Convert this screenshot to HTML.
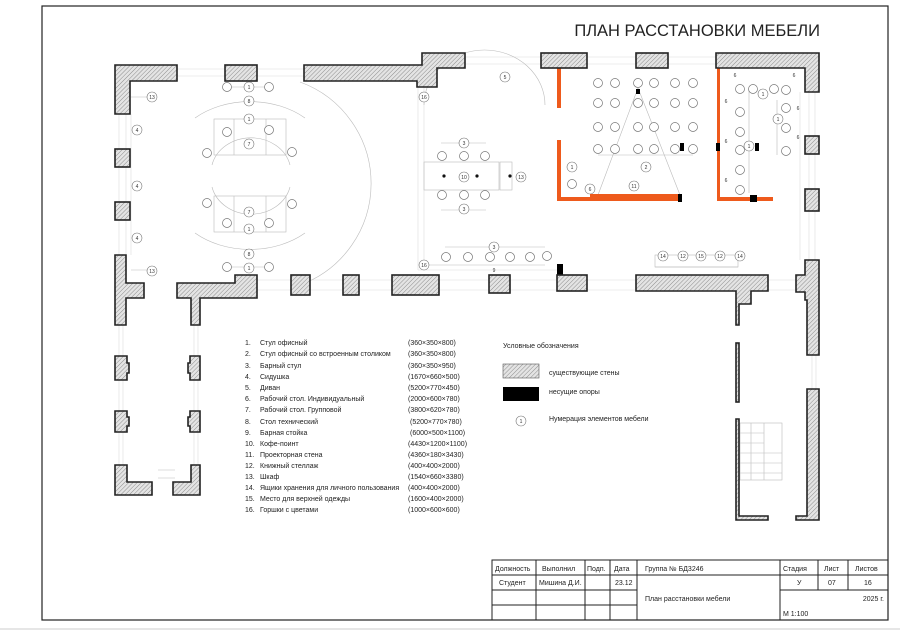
<!DOCTYPE html>
<html><head><meta charset="utf-8"><style>
html,body{margin:0;padding:0;background:#fff;}
svg{display:block;font-family:"Liberation Sans","DejaVu Sans",sans-serif;}
.w{fill:url(#h);stroke:#222;stroke-width:1.6;}
.t{font-size:7px;fill:#222;}
.n{font-size:5px;fill:#333;text-anchor:middle;}
.c{fill:#fff;stroke:#777;stroke-width:0.7;}
.g{stroke:#bbb;stroke-width:0.6;fill:none;}
.lg{stroke:#ddd;stroke-width:0.6;fill:none;}
.o{fill:#ee5a1c;}
.tb{font-size:7px;fill:#222;}
</style></head><body>
<svg width="900" height="633" viewBox="0 0 900 633" xmlns="http://www.w3.org/2000/svg">
<defs>
<pattern id="h" width="3" height="3" patternUnits="userSpaceOnUse" patternTransform="rotate(45)">
<rect width="3" height="3" fill="#e4e4e4"/><line x1="0" y1="0" x2="0" y2="3" stroke="#777" stroke-width="0.8"/></pattern>
<g id="ch"><circle r="4.5" class="c"/></g>
<g id="col"><use href="#ch" x="0" y="83"/><use href="#ch" x="0" y="103"/><use href="#ch" x="0" y="127"/><use href="#ch" x="0" y="149"/></g>
</defs>
<rect x="0" y="0" width="900" height="633" fill="#fff"/>
<rect x="42" y="6" width="846" height="614" fill="none" stroke="#222" stroke-width="1.2"/>
<line x1="0" y1="629" x2="900" y2="629" stroke="#ccc" stroke-width="1"/>
<text x="820" y="36" font-size="16.5" text-anchor="end" fill="#222">ПЛАН РАССТАНОВКИ МЕБЕЛИ</text>

<g class="lg">
<line x1="177" y1="69" x2="225" y2="69"/><line x1="177" y1="76" x2="225" y2="76"/>
<line x1="257" y1="69" x2="304" y2="69"/><line x1="257" y1="76" x2="304" y2="76"/>
<line x1="465" y1="57" x2="541" y2="57"/><line x1="465" y1="64" x2="541" y2="64"/>
<line x1="587" y1="57" x2="636" y2="57"/><line x1="587" y1="64" x2="636" y2="64"/>
<line x1="668" y1="57" x2="716" y2="57"/><line x1="668" y1="64" x2="716" y2="64"/>
<line x1="119" y1="114" x2="119" y2="255"/><line x1="126" y1="114" x2="126" y2="255"/><line x1="131" y1="114" x2="131" y2="255"/>
<line x1="809" y1="92" x2="809" y2="260"/><line x1="815" y1="92" x2="815" y2="260"/><line x1="800" y1="92" x2="800" y2="260"/>
<line x1="257" y1="280" x2="489" y2="280"/><line x1="257" y1="290" x2="489" y2="290"/>
<line x1="510" y1="280" x2="557" y2="280"/><line x1="510" y1="290" x2="557" y2="290"/>
<line x1="587" y1="280" x2="636" y2="280"/><line x1="587" y1="290" x2="636" y2="290"/>
<line x1="768" y1="280" x2="796" y2="280"/><line x1="768" y1="290" x2="796" y2="290"/>
<line x1="119" y1="325" x2="119" y2="465"/><line x1="123" y1="325" x2="123" y2="465"/>
<line x1="194" y1="325" x2="194" y2="465"/><line x1="198" y1="325" x2="198" y2="465"/>
<line x1="812" y1="355" x2="812" y2="389"/><line x1="816" y1="355" x2="816" y2="389"/>
<line x1="418" y1="87" x2="418" y2="270"/><line x1="424" y1="87" x2="424" y2="270"/>
<line x1="418" y1="270" x2="558" y2="270"/>
</g>

<g class="g">
<path d="M300 82 A108 108 0 0 1 300 285"/>
<path d="M195 118 A80 60 0 0 1 305 118"/><path d="M195 233 A80 60 0 0 0 305 233"/>
<path d="M212 165 A40 35 0 0 1 290 165"/><path d="M212 187 A40 35 0 0 0 290 187"/>
<rect x="214" y="119" width="72" height="36"/><rect x="214" y="196" width="72" height="36"/>
<line x1="234" y1="119" x2="234" y2="155"/><line x1="266" y1="119" x2="266" y2="155"/>
<line x1="234" y1="196" x2="234" y2="232"/><line x1="266" y1="196" x2="266" y2="232"/>
<line x1="231" y1="87" x2="267" y2="87"/><line x1="231" y1="267" x2="267" y2="267"/>
<line x1="131" y1="97" x2="150" y2="97"/><line x1="131" y1="270" x2="150" y2="270"/>
<path d="M424 105 A55 50 0 0 1 545 105"/>
<rect x="424" y="162" width="75" height="28"/><rect x="500" y="162" width="12" height="28"/>
<line x1="441" y1="143" x2="486" y2="143"/><line x1="441" y1="210" x2="486" y2="210"/>
<line x1="445" y1="247" x2="545" y2="247"/><line x1="424" y1="265" x2="545" y2="265"/>
<line x1="158" y1="470" x2="175" y2="470"/><line x1="158" y1="478" x2="175" y2="478"/>
<line x1="598" y1="155" x2="693" y2="155"/>
<line x1="638" y1="88" x2="598" y2="195"/><line x1="638" y1="88" x2="680" y2="195"/>
<line x1="749" y1="90" x2="749" y2="193"/><line x1="777" y1="100" x2="777" y2="155"/>
<rect x="655" y="255" width="83" height="12"/><line x1="655" y1="267" x2="738" y2="267"/>
<rect x="740" y="423" width="42" height="57"/><line x1="751" y1="423" x2="751" y2="480"/><line x1="764" y1="423" x2="764" y2="480"/>
<line x1="740" y1="433" x2="764" y2="433"/><line x1="740" y1="443" x2="764" y2="443"/><line x1="740" y1="453" x2="782" y2="453"/><line x1="740" y1="463" x2="782" y2="463"/><line x1="740" y1="473" x2="782" y2="473"/>
</g>
<g>
<use href="#ch" x="227" y="87"/><use href="#ch" x="269" y="87"/>
<use href="#ch" x="227" y="267"/><use href="#ch" x="269" y="267"/>
<use href="#ch" x="227" y="132"/><use href="#ch" x="269" y="130"/><use href="#ch" x="207" y="153"/><use href="#ch" x="292" y="152"/>
<use href="#ch" x="207" y="203"/><use href="#ch" x="292" y="204"/><use href="#ch" x="227" y="223"/><use href="#ch" x="269" y="223"/>
<use href="#ch" x="442" y="156"/><use href="#ch" x="464" y="156"/><use href="#ch" x="485" y="156"/>
<use href="#ch" x="442" y="195"/><use href="#ch" x="464" y="195"/><use href="#ch" x="485" y="195"/>
<use href="#ch" x="446" y="257"/><use href="#ch" x="468" y="257"/><use href="#ch" x="490" y="257"/><use href="#ch" x="510" y="257"/><use href="#ch" x="530" y="257"/><use href="#ch" x="547" y="256"/>
<circle cx="444" cy="176" r="1.6" fill="#111"/><circle cx="477" cy="176" r="1.6" fill="#111"/><circle cx="510" cy="176" r="1.6" fill="#111"/>
</g>
<g>
<use href="#col" x="598"/><use href="#col" x="615"/><use href="#col" x="638"/><use href="#col" x="654"/><use href="#col" x="675"/><use href="#col" x="693"/>
<use href="#ch" x="740" y="89"/><use href="#ch" x="740" y="112"/><use href="#ch" x="740" y="132"/><use href="#ch" x="740" y="150"/><use href="#ch" x="740" y="170"/><use href="#ch" x="740" y="190"/>
<use href="#ch" x="753" y="89"/><use href="#ch" x="774" y="89"/><use href="#ch" x="786" y="90"/><use href="#ch" x="786" y="108"/><use href="#ch" x="786" y="128"/><use href="#ch" x="786" y="151"/>
<use href="#ch" x="572" y="184"/>
</g>
<g class="n">
<g fill="#fff" stroke="#777" stroke-width="0.6">
<circle cx="152" cy="97" r="5"/><circle cx="137" cy="130" r="5"/><circle cx="137" cy="186" r="5"/><circle cx="137" cy="238" r="5"/><circle cx="152" cy="271" r="5"/>
<circle cx="249" cy="87" r="5"/><circle cx="249" cy="101" r="5"/><circle cx="249" cy="119" r="5"/><circle cx="249" cy="144" r="5"/>
<circle cx="249" cy="212" r="5"/><circle cx="249" cy="229" r="5"/><circle cx="249" cy="254" r="5"/><circle cx="249" cy="268" r="5"/>
<circle cx="424" cy="97" r="5"/><circle cx="424" cy="265" r="5"/><circle cx="505" cy="77" r="5"/>
<circle cx="464" cy="143" r="5"/><circle cx="464" cy="177" r="5"/><circle cx="464" cy="209" r="5"/><circle cx="521" cy="177" r="5"/><circle cx="494" cy="247" r="5"/>
<circle cx="646" cy="167" r="5"/><circle cx="634" cy="186" r="5"/><circle cx="590" cy="189" r="5"/><circle cx="572" cy="167" r="5"/>
<circle cx="763" cy="94" r="5"/><circle cx="778" cy="119" r="5"/><circle cx="749" cy="146" r="5"/>
<circle cx="663" cy="256" r="5"/><circle cx="683" cy="256" r="5"/><circle cx="701" cy="256" r="5"/><circle cx="720" cy="256" r="5"/><circle cx="740" cy="256" r="5"/>
<circle cx="521" cy="421" r="5"/>
</g>
<text x="152" y="99">13</text><text x="137" y="132">4</text><text x="137" y="188">4</text><text x="137" y="240">4</text><text x="152" y="273">13</text>
<text x="249" y="89">1</text><text x="249" y="103">8</text><text x="249" y="121">1</text><text x="249" y="146">7</text>
<text x="249" y="214">7</text><text x="249" y="231">1</text><text x="249" y="256">8</text><text x="249" y="270">1</text>
<text x="424" y="99">16</text><text x="424" y="267">16</text><text x="505" y="79">5</text>
<text x="464" y="145">3</text><text x="464" y="179">10</text><text x="464" y="211">3</text><text x="521" y="179">13</text><text x="494" y="249">3</text><text x="494" y="272">9</text>
<text x="646" y="169">2</text><text x="634" y="188">11</text><text x="590" y="191">6</text><text x="572" y="169">1</text>
<text x="763" y="96">1</text><text x="778" y="121">1</text><text x="749" y="148">1</text>
<text x="735" y="77">6</text><text x="794" y="77">6</text><text x="726" y="103">6</text><text x="798" y="110">6</text><text x="726" y="143">6</text><text x="798" y="139">6</text><text x="726" y="182">6</text>
<text x="663" y="258">14</text><text x="683" y="258">12</text><text x="701" y="258">15</text><text x="720" y="258">12</text><text x="740" y="258">14</text>
<text x="521" y="423">1</text>
</g>

<rect class="o" x="557" y="68" width="4" height="40"/>
<rect class="o" x="557" y="140" width="4" height="61"/>
<rect class="o" x="557" y="197" width="125" height="4"/>
<rect class="o" x="590" y="194" width="90" height="7"/>
<rect class="o" x="717" y="68" width="3" height="133"/>
<rect class="o" x="717" y="197" width="56" height="4"/>
<g fill="#000">
<rect x="680" y="143" width="4" height="8"/><rect x="678" y="194" width="4" height="8"/>
<rect x="716" y="143" width="4" height="8"/><rect x="755" y="143" width="4" height="8"/><rect x="750" y="195" width="7" height="7"/>
<rect x="557" y="264" width="6" height="11"/><rect x="636" y="89" width="4" height="5"/>
</g>

<g class="w">
<path d="M115 65H177V81H130V114H115Z"/>
<rect x="225" y="65" width="32" height="16"/>
<path d="M304 65H422V53H465V68H437V87H417V81H304Z"/>
<rect x="541" y="53" width="46" height="15"/>
<rect x="636" y="53" width="32" height="15"/>
<path d="M716 53H819V92H805V68H716Z"/>
<rect x="115" y="149" width="15" height="18"/><rect x="115" y="202" width="15" height="18"/>
<rect x="805" y="136" width="14" height="18"/><rect x="805" y="189" width="14" height="22"/>
<path d="M115 255H126V283H144V298H126V325H115Z"/>
<path d="M235 275H257V298H200V325H191V298H177V283H235Z"/>
<rect x="291" y="275" width="19" height="20"/><rect x="343" y="275" width="16" height="20"/>
<rect x="392" y="275" width="47" height="20"/><rect x="489" y="275" width="21" height="18"/>
<rect x="557" y="275" width="30" height="16"/>
<path d="M636 275H768V291H751V304H739V325H736V291H636Z"/>
<path d="M805 260H819V355H807V300H805V292H796V275H805Z"/>
<path d="M115 356H127V363H129V373H127V380H115Z"/><path d="M115 411H127V417H129V426H127V432H115Z"/>
<path d="M190 356H200V380H190V373H188V363H190Z"/><path d="M190 411H200V432H190V426H188V417H190Z"/>
<path d="M115 465H127V482H152V495H115Z"/>
<path d="M191 465H200V495H173V482H191Z"/>
<rect x="736" y="343" width="3" height="59"/>
<path d="M736 419H739V516H768V520H736Z"/>
<path d="M807 389H819V520H796V516H807Z"/>
</g>

<g class="t">
<text x="245" y="345">1.</text><text x="260" y="345">Стул офисный</text><text x="408" y="345">(360×350×800)</text>
<text x="245" y="356">2.</text><text x="260" y="356">Стул офисный со встроенным столиком</text><text x="408" y="356">(360×350×800)</text>
<text x="245" y="368">3.</text><text x="260" y="368">Барный стул</text><text x="408" y="368">(360×350×950)</text>
<text x="245" y="379">4.</text><text x="260" y="379">Сидушка</text><text x="408" y="379">(1670×660×500)</text>
<text x="245" y="390">5.</text><text x="260" y="390">Диван</text><text x="408" y="390">(5200×770×450)</text>
<text x="245" y="401">6.</text><text x="260" y="401">Рабочий стол. Индивидуальный</text><text x="408" y="401">(2000×600×780)</text>
<text x="245" y="412">7.</text><text x="260" y="412">Рабочий стол. Групповой</text><text x="408" y="412">(3800×620×780)</text>
<text x="245" y="424">8.</text><text x="260" y="424">Стол технический</text><text x="410" y="424">(5200×770×780)</text>
<text x="245" y="435">9.</text><text x="260" y="435">Барная стойка</text><text x="410" y="435">(6000×500×1100)</text>
<text x="245" y="446">10.</text><text x="260" y="446">Кофе-поинт</text><text x="408" y="446">(4430×1200×1100)</text>
<text x="245" y="457">11.</text><text x="260" y="457">Проекторная стена</text><text x="408" y="457">(4360×180×3430)</text>
<text x="245" y="468">12.</text><text x="260" y="468">Книжный стеллаж</text><text x="408" y="468">(400×400×2000)</text>
<text x="245" y="479">13.</text><text x="260" y="479">Шкаф</text><text x="408" y="479">(1540×660×3380)</text>
<text x="245" y="490">14.</text><text x="260" y="490">Ящики хранения для личного пользования</text><text x="408" y="490">(400×400×2000)</text>
<text x="245" y="501">15.</text><text x="260" y="501">Место для верхней одежды</text><text x="408" y="501">(1600×400×2000)</text>
<text x="245" y="512">16.</text><text x="260" y="512">Горшки с цветами</text><text x="408" y="512">(1000×600×600)</text>
<text x="503" y="348">Условные обозначения</text>
<text x="549" y="375">существующие стены</text>
<text x="549" y="394">несущие опоры</text>
<text x="549" y="421">Нумерация элементов мебели</text>
</g>
<rect x="503" y="364" width="36" height="14" fill="url(#h)" stroke="#555" stroke-width="0.6"/>
<rect x="503" y="387" width="36" height="14" fill="#000"/>

<g stroke="#222" stroke-width="1" fill="none">
<rect x="492" y="560" width="396" height="60"/>
<line x1="492" y1="575" x2="888" y2="575"/>
<line x1="492" y1="590" x2="637" y2="590"/><line x1="780" y1="590" x2="888" y2="590"/>
<line x1="492" y1="605" x2="637" y2="605"/>
<line x1="536" y1="560" x2="536" y2="620"/><line x1="585" y1="560" x2="585" y2="620"/>
<line x1="610" y1="560" x2="610" y2="620"/><line x1="637" y1="560" x2="637" y2="620"/>
<line x1="780" y1="560" x2="780" y2="620"/><line x1="818" y1="560" x2="818" y2="590"/><line x1="848" y1="560" x2="848" y2="590"/>
</g>
<g class="tb">
<text x="495" y="571">Должность</text><text x="542" y="571">Выполнил</text><text x="587" y="571">Подп.</text><text x="614" y="571">Дата</text>
<text x="645" y="571">Группа № БД3246</text>
<text x="783" y="571">Стадия</text><text x="824" y="571">Лист</text><text x="855" y="571">Листов</text>
<text x="499" y="585">Студент</text><text x="539" y="585">Мишина Д.И.</text><text x="615" y="585">23.12</text>
<text x="797" y="585">У</text><text x="828" y="585">07</text><text x="864" y="585">16</text>
<text x="645" y="601">План расстановки мебели</text>
<text x="884" y="601" text-anchor="end">2025 г.</text>
<text x="783" y="616">М 1:100</text>
</g>
</svg>
</body></html>
